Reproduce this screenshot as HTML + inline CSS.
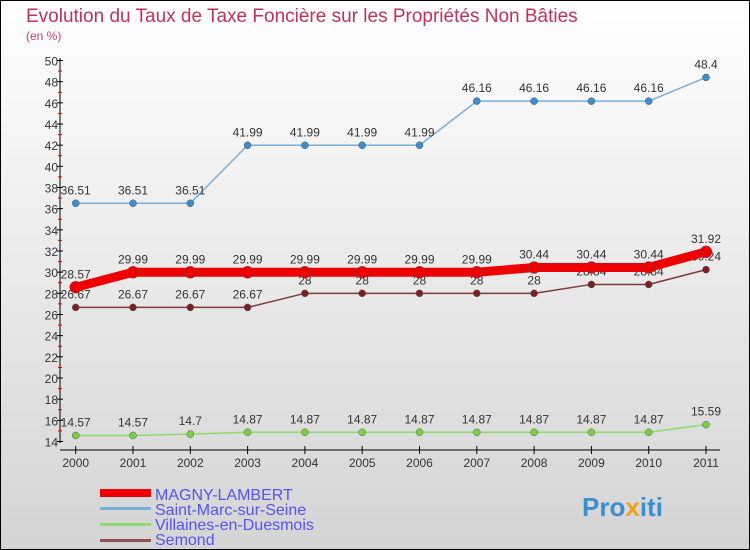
<!DOCTYPE html>
<html><head><meta charset="utf-8"><style>
html,body{margin:0;padding:0}
body{width:750px;height:550px;overflow:hidden;font-family:"Liberation Sans",sans-serif}
#c{position:absolute;left:0;top:0;width:748px;height:548px;border:1px solid #000;background:linear-gradient(#fff,#d4d4d4)}
</style></head><body>
<div id="c">
<svg id="s" width="750" height="550" style="position:absolute;left:-1px;top:-1px">
<text x="26" y="22" font-size="19" fill="#c03060">Evolution du Taux de Taxe Foncière sur les Propriétés Non Bâties</text>
<text x="26" y="40" font-size="12" fill="#c84070">(en %)</text>
<g id="axes"></g><g id="series"></g>
<g>
<rect x="100" y="489" width="51" height="8" fill="#ee0000"/>
<rect x="100" y="507" width="51" height="3" fill="#7aaed8"/>
<rect x="100" y="523" width="51" height="3" fill="#90d870"/>
<rect x="100" y="539" width="51" height="3" fill="#905050"/>
<text x="155" y="500" font-size="16" fill="#5555ee">MAGNY-LAMBERT</text>
<text x="155" y="515" font-size="16" fill="#5555ee">Saint-Marc-sur-Seine</text>
<text x="155" y="530" font-size="16" fill="#5555ee">Villaines-en-Duesmois</text>
<text x="155" y="545" font-size="16" fill="#5555ee">Semond</text>
</g>
<text x="582" y="516" font-size="26" font-weight="bold" fill="#3a8fd0">Pro<tspan fill="#f0a020">x</tspan>iti</text>
</svg></div>
<script>
const years=["2000","2001","2002","2003","2004","2005","2006","2007","2008","2009","2010","2011"];
const yTicks=[14,16,18,20,22,24,26,28,30,32,34,36,38,40,42,44,46,48,50];
const magny=[28.57,29.99,29.99,29.99,29.99,29.99,29.99,29.99,30.44,30.44,30.44,31.92];
const saintMarc=[36.51,36.51,36.51,41.99,41.99,41.99,41.99,46.16,46.16,46.16,46.16,48.4];
const villaines=[14.57,14.57,14.7,14.87,14.87,14.87,14.87,14.87,14.87,14.87,14.87,15.59];
const semond=[26.67,26.67,26.67,26.67,28,28,28,28,28,28.84,28.84,30.24];
const NS="http://www.w3.org/2000/svg";
const X=i=>75.7+i*57.3;
const Y=v=>441.5-(v-14)*(381/36);
function mk(p,t,a){const e=document.createElementNS(NS,t);for(const k in a)e.setAttribute(k,a[k]);p.appendChild(e);return e;}
const ax=document.getElementById('axes');
let l=mk(ax,'line',{x1:60,y1:58,x2:60,y2:443,stroke:'#000'});


l=mk(ax,'line',{x1:60,y1:450,x2:720,y2:450,stroke:'#000'});


yTicks.forEach(v=>{
 mk(ax,'line',{x1:57,x2:63,y1:Y(v),y2:Y(v),stroke:'#000'});
 if(v<50)mk(ax,'line',{x1:58,x2:62,y1:Y(v+1),y2:Y(v+1),stroke:'#e00000'});
 const t=mk(ax,'text',{x:58,y:Y(v)+5,'font-size':12,'text-anchor':'end',fill:'#333'});
 t.textContent=v;
 
 
});
years.forEach((y,i)=>{
 mk(ax,'line',{x1:X(i),x2:X(i),y1:446,y2:454,stroke:'#000'});
 const t=mk(ax,'text',{x:X(i),y:467,'font-size':12,'text-anchor':'middle',fill:'#333'});
 t.textContent=y;
 
 
});
const sg=document.getElementById('series');
function series(name,vals,col,dot,w,r){
 const g=mk(sg,'g',{});
 
 
 const p=mk(g,'polyline',{points:vals.map((v,i)=>X(i)+','+Y(v)).join(' '),fill:'none',stroke:col,'stroke-width':w});
 
 
 vals.forEach((v,i)=>{
  const c=mk(g,'circle',{cx:X(i),cy:Y(v),r:r,fill:dot,stroke:'#555','stroke-width':0.5});
  
  
  const t=mk(g,'text',{x:X(i),y:Y(v)-9,'font-size':12,'text-anchor':'middle',fill:'#333'});
  t.textContent=v;
  
  
 });
}
series('villaines',villaines,'#90d870','#7cd040',1.5,3.5);
series('semond',semond,'#7a3a3a','#7a2020',1.5,3.5);
series('saint-marc',saintMarc,'#7aaed8','#3a8ed0',1.5,3.5);
series('magny',magny,'#ee0000','#ee0000',9,6);
</script>
</body></html>
